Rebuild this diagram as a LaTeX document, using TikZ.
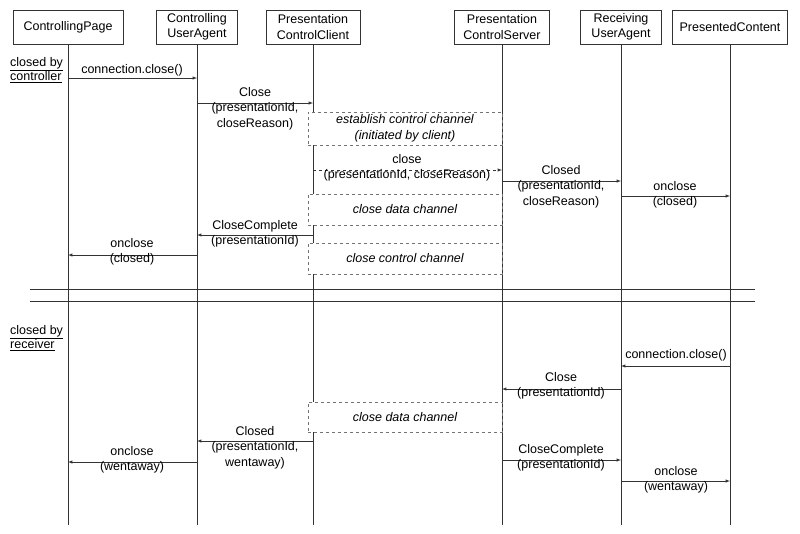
\documentclass[tikz,border=0pt]{standalone}
\usepackage{fontspec}
\setmainfont{Liberation Sans}
\begin{document}
\begin{tikzpicture}[x=1pt,y=-1pt,
  every node/.style={font=\fontsize{12.5}{15.5}\selectfont, inner sep=1pt},
  hdr/.style={draw=black!80, minimum height=34pt, align=center, inner sep=2pt},
  life/.style={draw=black!80, line width=0.5pt},
  msg/.style={draw=black!80, -latex, line width=0.5pt},
  dmsg/.style={msg, dashed},
  lbl/.style={align=center, inner sep=0pt},
  act/.style={draw=black!55, dashed, fill=white, line width=0.6pt, align=center, font=\fontsize{12.5}{15.5}\selectfont\itshape}]
\useasboundingbox (0,0) rectangle (800,533);
% headers
\node[hdr, minimum width=110pt] (h1) at (68,27) {ControllingPage};
\node[hdr, minimum width=81pt] (h2) at (197,27) {Controlling\\UserAgent};
\node[hdr, minimum width=94pt] (h3) at (313,27) {Presentation\\ControlClient};
\node[hdr, minimum width=95pt] (h4) at (502,27) {Presentation\\ControlServer};
\node[hdr, minimum width=81pt] (h5) at (621,27) {Receiving\\UserAgent};
\node[hdr, minimum width=115pt] (h6) at (730,27) {PresentedContent};
\foreach \i/\x in {1/68,2/197,3/313,4/502,5/621,6/730}{
  \coordinate (e\i) at (\x,525);
  \draw[life] (h\i.south) -- (e\i);
}
% section labels
\node[align=left, anchor=west] (s1) at (9,70) {\underline{closed by}\\[-1pt]\underline{controller}};
\node[align=left, anchor=west] (s2) at (9,338) {\underline{closed by}\\[-1pt]\underline{receiver}};
% separators
\coordinate (sa) at (30,289); \coordinate (sb) at (755,289);
\coordinate (sc) at (30,301); \coordinate (sd) at (755,301);
\draw[draw=black!80] (sa) -- (sb); \draw[draw=black!80] (sc) -- (sd);
% activity boxes
\node[act, minimum width=194pt, minimum height=33pt] (a1) at (405,128.5) {establish control channel\\(initiated by client)};
\node[act, minimum width=194pt, minimum height=31pt] (a2) at (405,209.5) {close data channel};
\node[act, minimum width=194pt, minimum height=31pt] (a3) at (405,258.5) {close control channel};
\node[act, minimum width=194pt, minimum height=30pt] (a4) at (405,417) {close data channel};
% messages - top
\coordinate (m1a) at (68,78); \coordinate (m1b) at (197,78);
\draw[msg] (m1a) -- (m1b);
\node (l1) at (132,70) {connection.close()};
\coordinate (m2a) at (197,103); \coordinate (m2b) at (313,103);
\draw[msg] (m2a) -- (m2b);
\node[lbl, anchor=north] (l2) at (255,87) {Close\\(presentationId,\\closeReason)};
\coordinate (m3a) at (313,170); \coordinate (m3b) at (502,170);
\draw[dmsg] (m3a) -- (m3b);
\node[lbl, anchor=north] (l3) at (407,154) {close\\(presentationId, closeReason)};
\coordinate (m4a) at (502,181); \coordinate (m4b) at (621,181);
\draw[msg] (m4a) -- (m4b);
\node[lbl, anchor=north] (l4) at (561,165) {Closed\\(presentationId,\\closeReason)};
\coordinate (m5a) at (621,196); \coordinate (m5b) at (730,196);
\draw[msg] (m5a) -- (m5b);
\node[lbl, anchor=north] (l5) at (675,181) {onclose\\(closed)};
\coordinate (m6a) at (313,235); \coordinate (m6b) at (197,235);
\draw[msg] (m6a) -- (m6b);
\node[lbl, anchor=north] (l6) at (255,220) {CloseComplete\\(presentationId)};
\coordinate (m7a) at (197,255); \coordinate (m7b) at (68,255);
\draw[msg] (m7a) -- (m7b);
\node[lbl, anchor=north] (l7) at (132,238) {onclose\\(closed)};
% bottom
\coordinate (n1a) at (730,366); \coordinate (n1b) at (621,366);
\draw[msg] (n1a) -- (n1b);
\node (k1) at (676,355) {connection.close()};
\coordinate (n2a) at (621,389); \coordinate (n2b) at (502,389);
\draw[msg] (n2a) -- (n2b);
\node[lbl, anchor=north] (k2) at (561,372) {Close\\(presentationId)};
\coordinate (n3a) at (313,441); \coordinate (n3b) at (197,441);
\draw[msg] (n3a) -- (n3b);
\node[lbl, anchor=north] (k3) at (255,426) {Closed\\(presentationId,\\wentaway)};
\coordinate (n4a) at (197,462); \coordinate (n4b) at (68,462);
\draw[msg] (n4a) -- (n4b);
\node[lbl, anchor=north] (k4) at (132,446) {onclose\\(wentaway)};
\coordinate (n5a) at (502,460); \coordinate (n5b) at (621,460);
\draw[msg] (n5a) -- (n5b);
\node[lbl, anchor=north] (k5) at (561,444) {CloseComplete\\(presentationId)};
\coordinate (n6a) at (621,481); \coordinate (n6b) at (730,481);
\draw[msg] (n6a) -- (n6b);
\node[lbl, anchor=north] (k6) at (676,466) {onclose\\(wentaway)};
\end{tikzpicture}
\end{document}
